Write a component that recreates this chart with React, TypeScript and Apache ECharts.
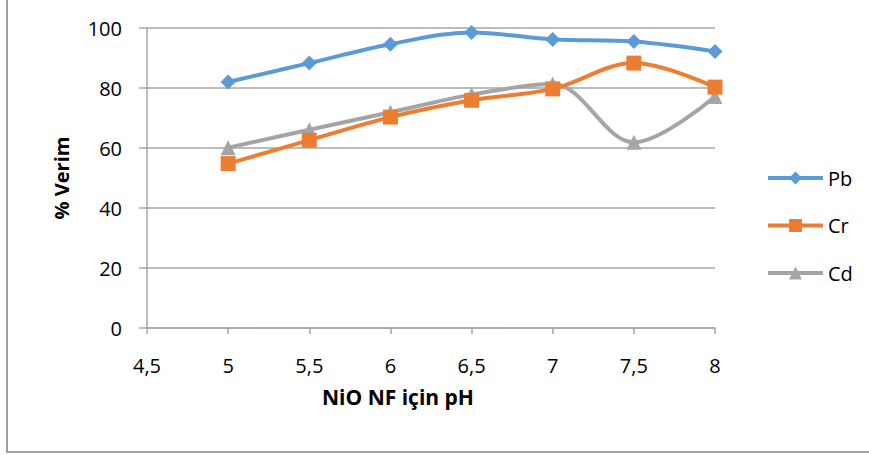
import React, { useEffect, useRef } from "react";
import * as echarts from "echarts";

const phValues = [5, 5.5, 6, 6.5, 7, 7.5, 8];
const pbValues = [82, 88.3, 94.6, 98.5, 96.2, 95.5, 92.2];
const crValues = [54.8, 62.6, 70.3, 75.9, 79.7, 88.3, 80.3];
const cdValues = [60.1, 66.1, 71.9, 77.8, 81.3, 61.9, 77.2];
const seriesNames = ["Pb", "Cr", "Cd"];
const seriesColors = ["#5b9bd5", "#ed7d31", "#a5a5a5"];

const FONT = "'Open Sans', sans-serif";

export default function App() {
  const ref = useRef<HTMLDivElement>(null);
  useEffect(() => {
    if (!ref.current) return;
    const chart = echarts.init(ref.current, null, { renderer: "svg" });
    const mk = (vals: number[]) => phValues.map((x, i) => [x, vals[i]]);
    const symbols = ["diamond", "rect", "triangle"];
    const sizes = [15, 15, 15];
    const all = [pbValues, crValues, cdValues];
    chart.setOption({
      animation: false,
      textStyle: { fontFamily: FONT },
      grid: { left: 147, right: 154, top: 28, bottom: 127 },
      legend: {
        orient: "vertical",
        left: 761,
        top: 163,
        itemWidth: 55,
        itemHeight: 16,
        itemGap: 27.5,
        data: seriesNames,
        lineStyle: { width: 4 },
        textStyle: { fontSize: 20, lineHeight: 16, color: "#000", fontFamily: FONT },
      },
      xAxis: {
        type: "value",
        min: 4.5,
        max: 8,
        interval: 0.5,
        axisLine: { show: true, lineStyle: { color: "#a6a6a6", width: 1.5 } },
        axisTick: { show: true, length: 6, lineStyle: { color: "#a6a6a6", width: 1.5 } },
        splitLine: { show: false },
        axisLabel: {
          fontSize: 20,
          color: "#000",
          margin: 27,
          fontFamily: FONT,
          formatter: (v: number) => String(v).replace(".", ","),
        },
      },
      yAxis: {
        type: "value",
        min: 0,
        max: 100,
        interval: 20,
        name: "% Verim",
        nameLocation: "middle",
        nameGap: 76,
        nameRotate: 90,
        nameTextStyle: { fontSize: 20, fontWeight: "bold", color: "#000", fontFamily: FONT },
        axisLine: { show: true, lineStyle: { color: "#a6a6a6", width: 1.5 } },
        axisTick: { show: true, length: 8, lineStyle: { color: "#a6a6a6", width: 1.5 } },
        splitLine: { show: true, lineStyle: { color: "#a6a6a6", width: 1.5 } },
        axisLabel: { fontSize: 20, color: "#000", margin: 25, fontFamily: FONT },
      },
      graphic: [
        {
          type: "text",
          left: 322,
          top: 386,
          style: {
            text: "NiO NF için pH",
            fontSize: 21,
            fontWeight: "bold",
            fill: "#000",
            fontFamily: FONT,
          },
        },
        {
          type: "polyline",
          shape: { points: [[7, -5], [7, 452], [875, 452]] },
          style: { stroke: "#a0a0a0", lineWidth: 2, fill: "none" },
        },
      ],
      series: seriesNames.map((name, i) => ({
        name,
        type: "line",
        data: mk(all[i]),
        smooth: 0.35,
        symbol: symbols[i],
        symbolSize: sizes[i],
        showSymbol: true,
        lineStyle: { width: 4, color: seriesColors[i] },
        itemStyle: { color: seriesColors[i] },
        z: 3 - i,
      })),
    });
    return () => chart.dispose();
  }, []);
  return <div ref={ref} style={{ width: 869, height: 455, position: "absolute", left: 0, top: 0 }} />;
}
